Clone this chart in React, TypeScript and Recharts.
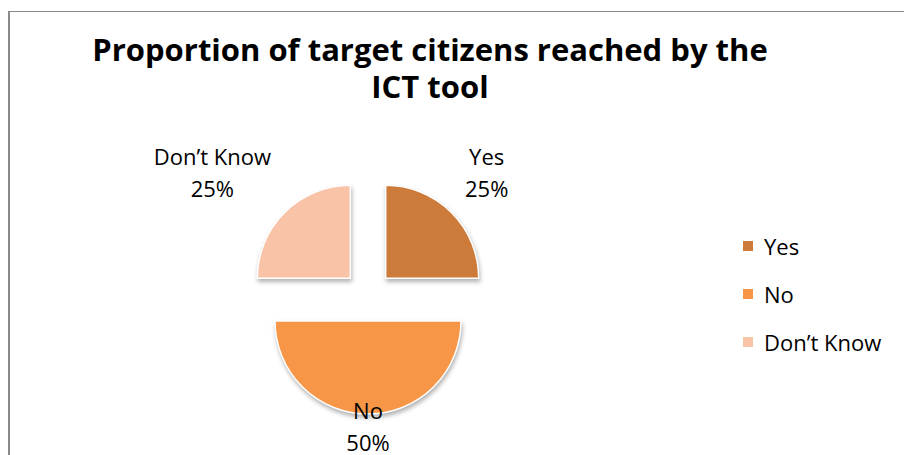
import { Cell, Legend, Pie, PieChart } from "recharts";

const categories = ["Yes", "No", "Don’t Know"];
const shares = [25, 50, 25];
const colors = ["#CC7B3A", "#F79646", "#F9C3A7"];

const data = categories.map((name, i) => ({ name, value: shares[i] }));

const FONT = "'Open Sans', 'Noto Sans', sans-serif";
const START = 90;
const EXPLODE = 25;
const RADIUS = 93;

// explode offset for each slice, along its mid angle
const total = shares.reduce((a, b) => a + b, 0);
let acc = 0;
const offsets = shares.map((v) => {
  const mid = START - ((acc + v / 2) / total) * 360;
  acc += v;
  const rad = (mid * Math.PI) / 180;
  return { dx: EXPLODE * Math.cos(rad), dy: -EXPLODE * Math.sin(rad) };
});

let ctx: CanvasRenderingContext2D | null = null;
function textWidth(s: string) {
  if (!ctx) ctx = document.createElement("canvas").getContext("2d");
  if (!ctx) return s.length * 11;
  ctx.font = `22px ${FONT}`;
  return ctx.measureText(s).width;
}

function renderLabel(props: any) {
  const { cx, cy, midAngle, outerRadius, percent, name } = props;
  const pct = `${Math.round(percent * 100)}%`;
  const c = Math.cos((midAngle * Math.PI) / 180);
  const s = Math.sin((midAngle * Math.PI) / 180);
  const w = Math.max(textWidth(name), textWidth(pct));
  let x = cx;
  let y = cy;
  if (Math.abs(c) > 0.1) {
    // side slices: label block starts just inside the slice's outer edge
    x = cx + Math.sign(c) * (outerRadius + 4 + w / 2);
    y = cy - Math.sign(s) * (outerRadius + 31);
  } else {
    y = cy - Math.sign(s) * (outerRadius + 37);
  }
  return (
    <text x={x} y={y} textAnchor="middle" fill="#000" fontFamily={FONT} fontSize={22}>
      <tspan x={x} y={y - 16} dominantBaseline="central">{name}</tspan>
      <tspan x={x} y={y + 16} dominantBaseline="central">{pct}</tspan>
    </text>
  );
}

function LegendContent() {
  return (
    <div style={{ fontFamily: FONT, fontSize: 22, color: "#000" }}>
      {categories.map((name, i) => (
        <div key={name} style={{ display: "flex", alignItems: "center", height: 48 }}>
          <span style={{ width: 10, height: 10, background: colors[i], display: "inline-block", marginRight: 11 }} />
          <span>{name}</span>
        </div>
      ))}
    </div>
  );
}

export default function App() {
  return (
    <div style={{ position: "absolute", left: 8, top: 11, width: 896, height: 444, overflow: "hidden" }}>
      <div style={{ position: "relative", width: 920, height: 470, borderTop: "1px solid #8a8a8a", borderLeft: "2px solid #8a8a8a", background: "#fff" }}>
        <div style={{ position: "absolute", left: 0, top: 0, width: 840, textAlign: "center", fontFamily: FONT, fontWeight: 700, fontSize: 31, lineHeight: "37px", paddingTop: 19, color: "#000" }}>
          Proportion of target citizens reached by the
          <br />
          ICT tool
        </div>
        <PieChart width={900} height={450} style={{ position: "absolute", left: 0, top: 0 }}>
          <Pie
            data={data}
            dataKey="value"
            nameKey="name"
            cx={353}
            cy={279}
            outerRadius={RADIUS}
            startAngle={START}
            endAngle={START - 360}
            stroke="#fff"
            strokeWidth={1.5}
            label={renderLabel}
            labelLine={false}
            isAnimationActive={false}
          >
            {data.map((d, i) => (
              <Cell
                key={d.name}
                fill={colors[i]}
                transform={`translate(${offsets[i].dx},${offsets[i].dy})`}
                style={{ filter: "drop-shadow(1px 3px 2px rgba(0,0,0,0.3))" }}
              />
            ))}
          </Pie>
          <Legend
            layout="vertical"
            content={<LegendContent />}
            wrapperStyle={{ position: "absolute", left: 733, top: 210, width: 170 }}
          />
        </PieChart>
      </div>
    </div>
  );
}
